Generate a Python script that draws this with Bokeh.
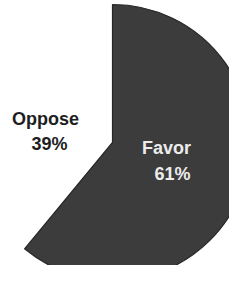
import numpy as np
from bokeh.plotting import figure
from bokeh.models import ColumnDataSource
from bokeh.core.properties import value
from bokeh.embed import file_html
from bokeh.resources import INLINE

# ---- data ----
categories = ["Favor", "Oppose"]
percents = [61, 39]
pct_labels = ["61%", "39%"]

# ---- styles / layout ----
W, H = 229, 265
fill_colors = ["#3c3c3c", "#ffffff"]
line_colors = ["#262626", None]
text_colors = ["#ececec", "#1e1e1e"]
cx, cy, r = 112, 123, 138
name_pos = [(166, 118), (45, 147)]
pct_pos = [(172, 92), (49, 122)]

vals = np.array(percents, dtype=float)
cum = np.concatenate([[0.0], np.cumsum(vals) / vals.sum()])
start = np.deg2rad(90 - cum[1:] * 360)
end = np.deg2rad(90 - cum[:-1] * 360)

src = ColumnDataSource(dict(
    cat=categories, start=start, end=end,
    fill=fill_colors, x=[cx] * 2, y=[cy] * 2,
))

p = figure(width=W, height=H, x_range=(0, W), y_range=(0, H),
           output_backend="svg", toolbar_location=None, min_border=0)
p.axis.visible = False
p.grid.visible = False
p.outline_line_color = None
p.background_fill_color = "white"
p.border_fill_color = "white"

p.wedge(x="x", y="y", radius=r, radius_units="data", start_angle="start", end_angle="end",
        fill_color="fill", line_color=None, source=src)
# outline of the Favor slice only
p.wedge(x=cx, y=cy, radius=r, start_angle=start[0], end_angle=end[0],
        fill_color=None, line_color=line_colors[0], line_width=1.2)

for i in range(len(categories)):
    p.text(x=[name_pos[i][0]], y=[name_pos[i][1]], text=[categories[i]],
           text_font=value("Liberation Sans"), text_font_style="bold",
           text_font_size="18px", text_align="center", text_baseline="alphabetic",
           text_color=text_colors[i])
    p.text(x=[pct_pos[i][0]], y=[pct_pos[i][1]], text=[pct_labels[i]],
           text_font=value("Liberation Sans"), text_font_style="bold",
           text_font_size="18px", text_align="center", text_baseline="alphabetic",
           text_color=text_colors[i])

open("out.html", "w").write(file_html(p, INLINE))
